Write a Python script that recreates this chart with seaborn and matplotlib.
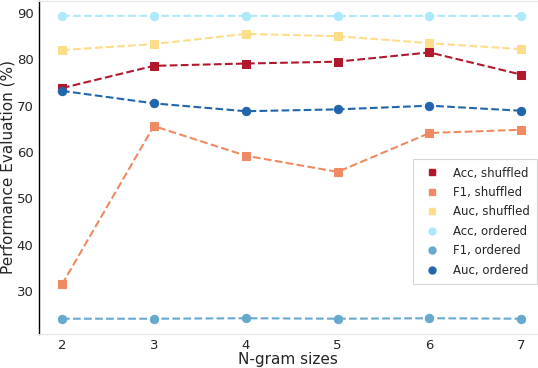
import matplotlib
matplotlib.use("Agg")
import matplotlib.pyplot as plt
import seaborn as sns
import pandas as pd
from matplotlib.lines import Line2D

ngrams = [2, 3, 4, 5, 6, 7]
acc_shuffled = [73.8, 78.6, 79.1, 79.5, 81.5, 76.7]
f1_shuffled = [31.4, 65.6, 59.2, 55.7, 64.1, 64.8]
auc_shuffled = [82.0, 83.3, 85.5, 85.0, 83.5, 82.2]
acc_ordered = [89.4, 89.4, 89.4, 89.35, 89.4, 89.35]
f1_ordered = [24.0, 24.0, 24.1, 24.0, 24.1, 24.0]
auc_ordered = [73.2, 70.5, 68.8, 69.2, 70.0, 68.9]

labels = ["Acc, shuffled", "F1, shuffled", "Auc, shuffled",
          "Acc, ordered", "F1, ordered", "Auc, ordered"]
series = [acc_shuffled, f1_shuffled, auc_shuffled, acc_ordered, f1_ordered, auc_ordered]
colors = ["#b2182b", "#ef8a62", "#fddc8a", "#aee8fb", "#67a9cf", "#2166ac"]
markers = ["s", "s", "s", "o", "o", "o"]

sns.set_style("white")
plt.rcParams['font.family'] = ['DejaVu Sans']

fig = plt.figure(figsize=(5.38, 3.68), dpi=100)
ax = fig.add_axes([39/538, 34/368, 498/538, 333/368])

for lab, vals, c, m in zip(labels, series, colors, markers):
    df = pd.DataFrame({"n": ngrams, "v": vals})
    sns.lineplot(data=df, x="n", y="v", ax=ax, color=c, marker=m, markersize=6,
                 markeredgecolor=c, linestyle="--", linewidth=1.5, label=None)

ax.set_xlim(1.75, 7.17)
ax.set_ylim(20.7, 92.6)
ax.set_xticks(ngrams)
ax.set_yticks([30, 40, 50, 60, 70, 80, 90])
ax.set_xlabel("N-gram sizes", fontsize=11, labelpad=0)
ax.set_ylabel("Performance Evaluation (%)", fontsize=11, labelpad=0.5)
ax.tick_params(axis="both", labelsize=9.5, length=3, width=0.8, color="black", direction="out")
ax.tick_params(axis="x", pad=1, length=2.5)
ax.tick_params(axis="y", pad=1)

ax.spines["left"].set_color("black")
ax.spines["left"].set_linewidth(1.0)
ax.spines["bottom"].set_color("#e6e6e6")
ax.spines["top"].set_color("#e6e6e6")
ax.spines["right"].set_visible(False)

handles = [Line2D([], [], linestyle="none", marker=m, color=c, markersize=5)
           for c, m in zip(colors, markers)]
leg = ax.legend(handles, labels, loc="lower right", bbox_to_anchor=(1.0, 0.15),
                borderaxespad=0, fontsize=8.5, frameon=True, fancybox=False,
                handletextpad=0.8, borderpad=0.6, labelspacing=0.55)
leg.get_frame().set_edgecolor("#cccccc")
leg.get_frame().set_linewidth(0.8)

fig.savefig("out.png", dpi=100)
